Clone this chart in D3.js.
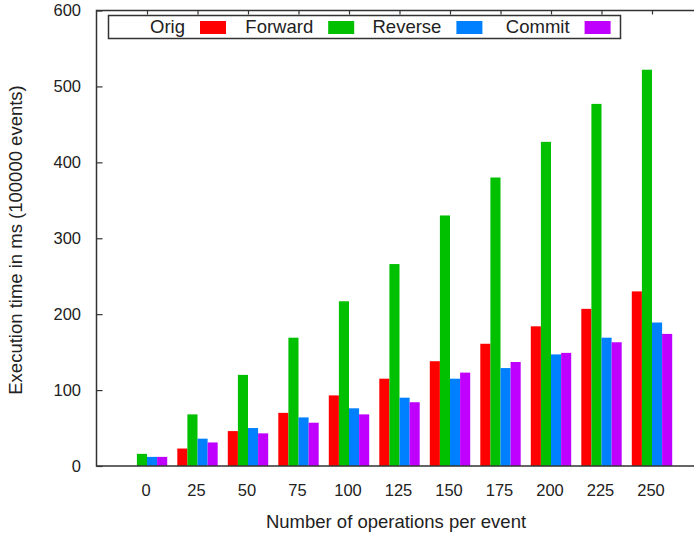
<!DOCTYPE html>
<html>
<head>
<meta charset="utf-8">
<script src="https://cdn.jsdelivr.net/npm/d3@7"></script>
<style>
  html, body { margin: 0; padding: 0; background: #fff; }
  svg { display: block; }
  text { font-family: "Liberation Sans", Arial, Helvetica, sans-serif; fill: #222; }
</style>
</head>
<body>
<svg id="chart" width="694" height="536"></svg>
<script>
// Operations per event (x categories)
const categories = [0, 25, 50, 75, 100, 125, 150, 175, 200, 225, 250];

// Execution time in ms for 100000 events, per variant
const seriesNames = ["Orig", "Forward", "Reverse", "Commit"];
const orig    = [0, 23, 46, 70, 93, 115, 138, 161, 184, 207, 230];
const forward = [16, 68, 120, 169, 217, 266, 330, 380, 427, 477, 522];
const reverse = [12, 36, 50, 64, 76, 90, 115, 129, 147, 169, 189];
const commit  = [12, 31, 43, 57, 68, 84, 123, 137, 149, 163, 174];

const yTicks = [0, 100, 200, 300, 400, 500, 600];
const colors = ["#ff0000", "#00c000", "#0080ff", "#c000ff"];
const seriesValues = [orig, forward, reverse, commit];

const svg = d3.select("#chart");

const plotLeft = 96.5, plotTop = 10.5, plotBottom = 466;
const step = 50.5;

// Category index scale; the frame runs from index -1 to 11
const x = d3.scaleLinear().domain([-1, 11]).range([plotLeft, plotLeft + 12 * step]);
const y = d3.scaleLinear().domain([0, 600]).range([plotBottom, plotTop]);

const barW = (x(1) - x(0)) * 0.2;
const groupStart = i => x(i) - (x(1) - x(0)) * 0.4;

// Bars
seriesValues.forEach((vals, s) => {
  svg.append("g")
    .selectAll("rect")
    .data(vals)
    .join("rect")
    .attr("x", (d, i) => groupStart(i) + s * barW)
    .attr("y", d => y(d))
    .attr("width", barW)
    .attr("height", d => y(0) - y(d))
    .attr("fill", colors[s]);
});

// Frame (left, bottom, top); right side falls past the edge
const frameColor = "#333";
svg.append("path")
  .attr("d", `M${x(11)},${plotTop} H${plotLeft} V${plotBottom} H${x(11)}`)
  .attr("fill", "none")
  .attr("stroke", frameColor)
  .attr("stroke-width", 1.5);

// Left axis with inward ticks
const yAxis = d3.axisRight(y).tickValues(yTicks).tickSize(6).tickFormat("");
svg.append("g").attr("transform", `translate(${plotLeft},0)`).call(yAxis)
  .call(g => g.select(".domain").remove())
  .call(g => g.selectAll("line").attr("stroke", frameColor).attr("stroke-width", 1.2));

svg.append("g").selectAll("text")
  .data(yTicks)
  .join("text")
  .attr("x", 81)
  .attr("y", d => y(d))
  .attr("dy", "0.35em")
  .attr("text-anchor", "end")
  .attr("font-size", 16.5)
  .text(d => d);

// Top mirror ticks at category positions
const xTop = d3.axisBottom(x).tickValues(d3.range(categories.length)).tickSize(4).tickFormat("");
svg.append("g").attr("transform", `translate(0,${plotTop})`).call(xTop)
  .call(g => g.select(".domain").remove())
  .call(g => g.selectAll("line").attr("stroke", frameColor).attr("stroke-width", 1.2));

// Category labels
svg.append("g").selectAll("text")
  .data(categories)
  .join("text")
  .attr("x", (d, i) => x(i) - 1)
  .attr("y", 490)
  .attr("dy", "0.35em")
  .attr("text-anchor", "middle")
  .attr("font-size", 16.5)
  .text(d => d);

// Axis titles
svg.append("text")
  .attr("x", 396)
  .attr("y", 522)
  .attr("dy", "0.35em")
  .attr("text-anchor", "middle")
  .attr("font-size", 18.5)
  .text("Number of operations per event");

svg.append("text")
  .attr("transform", `translate(16,240) rotate(-90)`)
  .attr("dy", "0.35em")
  .attr("text-anchor", "middle")
  .attr("font-size", 18.5)
  .text("Execution time in ms (100000 events)");

// Legend
const legend = svg.append("g");
legend.append("rect")
  .attr("x", 108.5).attr("y", 15.5)
  .attr("width", 512).attr("height", 23)
  .attr("fill", "#fff")
  .attr("stroke", frameColor)
  .attr("stroke-width", 1.5);

const entry = legend.selectAll("g.entry")
  .data(seriesNames)
  .join("g")
  .attr("class", "entry")
  .attr("transform", (d, i) => `translate(${i * 128.2},0)`);

entry.append("text")
  .attr("x", 185)
  .attr("y", 27)
  .attr("dy", "0.35em")
  .attr("text-anchor", "end")
  .attr("font-size", 18.5)
  .text(d => d);

entry.append("rect")
  .attr("x", 200)
  .attr("y", 21)
  .attr("width", 26)
  .attr("height", 13)
  .attr("fill", (d, i) => colors[i]);
</script>
</body>
</html>
